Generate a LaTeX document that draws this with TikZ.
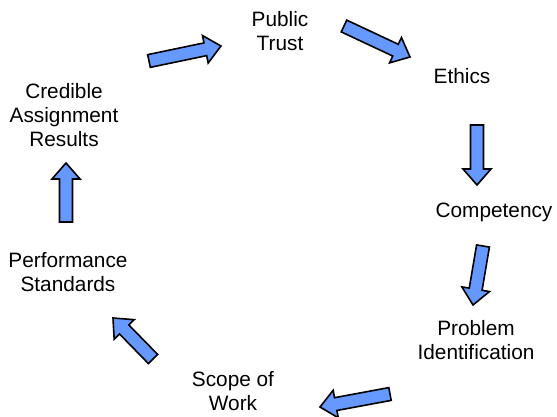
\documentclass[tikz,border=0pt]{standalone}
\usepackage{fontspec}
\setmainfont{Liberation Sans}
\usepackage{tikz}
\usetikzlibrary{
  arrows.meta,
  positioning,
  calc
}
\usepackage{xcolor}
\definecolor{arrowblue}{RGB}{102,153,255}

% block arrow from tail #1 to tip #2
\newcommand{\blockarrow}[2]{%
  \coordinate (hb) at ($(#2)!16pt!(#1)$);
  \draw[blk] ($(#1)!6.5pt!90:(#2)$) -- ($(hb)!6.5pt!-90:(#1)$)
    -- ($(hb)!14pt!-90:(#1)$) -- (#2) -- ($(hb)!14pt!90:(#1)$)
    -- ($(hb)!6.5pt!90:(#1)$) -- ($(#1)!6.5pt!-90:(#2)$) -- cycle;
}

\begin{document}
\begin{tikzpicture}[
    x=1pt, y=-1pt,
    font=\fontsize{20.8}{24}\selectfont,
    lbl/.style={align=center, inner sep=0pt},
    blk/.style={draw=black, fill=arrowblue, line width=1.6pt, line join=miter},
  ]
    \useasboundingbox (0,0) rectangle (557,417);

    %% ── Labels ───────────────────────────────────────────────
    \node[lbl] (trust)      at (280,31)  {Public\\Trust};
    \node[lbl] (ethics)     at (462,76)  {Ethics};
    \node[lbl] (competency) at (494,212) {Competency};
    \node[lbl] (problem)    at (476,340) {Problem\\Identification};
    \node[lbl] (scope)      at (233,391) {Scope of\\Work};
    \node[lbl] (standards)  at (68,272)  {Performance\\Standards};
    \node[lbl] (results)    at (64,115)  {Credible\\Assignment\\Results};

    %% ── Arrow ends ───────────────────────────────────────────
    \coordinate (r-t) at (149,61);  \coordinate (t-r) at (221,46);
    \coordinate (t-e) at (344,26);  \coordinate (e-t) at (410,57);
    \coordinate (e-c) at (477,125); \coordinate (c-e) at (477,185);
    \coordinate (c-p) at (483,246); \coordinate (p-c) at (473,305);
    \coordinate (p-s) at (390,394); \coordinate (s-p) at (320,407);
    \coordinate (s-d) at (153,359); \coordinate (d-s) at (113,318);
    \coordinate (d-r) at (66,222);  \coordinate (r-d) at (66,163);

    %% ── Arrows ───────────────────────────────────────────────
    \blockarrow{r-t}{t-r}
    \blockarrow{t-e}{e-t}
    \blockarrow{e-c}{c-e}
    \blockarrow{c-p}{p-c}
    \blockarrow{p-s}{s-p}
    \blockarrow{s-d}{d-s}
    \blockarrow{d-r}{r-d}

  \end{tikzpicture}
\end{document}
